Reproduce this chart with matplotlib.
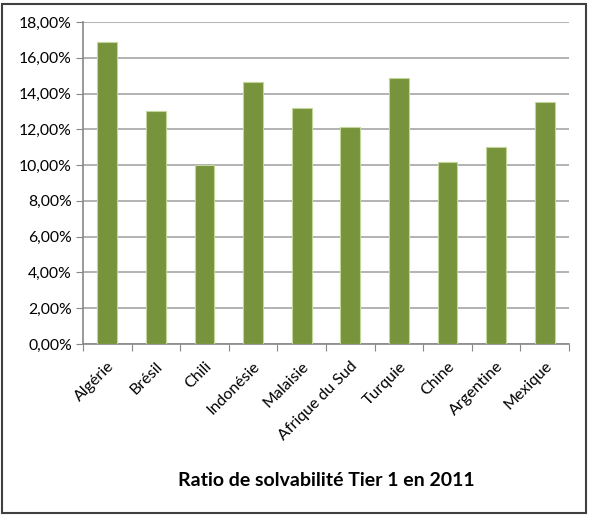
import matplotlib
matplotlib.use("Agg")
import matplotlib.pyplot as plt
from matplotlib.ticker import FuncFormatter, MultipleLocator
from matplotlib.patches import Rectangle

categories = ["Algérie", "Brésil", "Chili", "Indonésie", "Malaisie",
              "Afrique du Sud", "Turquie", "Chine", "Argentine", "Mexique"]
values = [16.9, 13.0, 10.0, 14.65, 13.2, 12.15, 14.87, 10.16, 11.0, 13.55]
title = "Ratio de solvabilité Tier 1 en 2011"

plt.rcParams['font.family'] = ['Lato', 'DejaVu Sans']

fig = plt.figure(figsize=(5.89, 5.15), dpi=100)
ax = fig.add_axes([83/589, 1-344/515, (569-83)/589, (344-22)/515])

x = list(range(len(categories)))
ax.bar(x, values, width=0.41, color="#77933C", edgecolor="#C4D79B", linewidth=0.8, zorder=3)

ax.set_xlim(-0.5, len(categories)-0.5)
ax.set_ylim(0, 18)
ax.yaxis.set_major_locator(MultipleLocator(2))
ax.yaxis.set_major_formatter(FuncFormatter(lambda v, p: f"{v:.2f}".replace(".", ",") + "%"))
ax.grid(axis="y", color="#A6A6A6", linewidth=1.2, zorder=0)

ax.set_xticks([i - 0.5 for i in range(len(categories)+1)], minor=False)
ax.set_xticklabels([])
ax.set_xticks(x, minor=True)
ax.set_xticklabels(categories, minor=True, rotation=45, ha="right", va="top",
                   rotation_mode="anchor", fontsize=11.5)
ax.tick_params(axis="x", which="minor", length=0, pad=11)
ax.tick_params(axis="x", which="major", length=5, color="#888888")
ax.tick_params(axis="y", length=5, color="#888888", labelsize=11.3, pad=3)

for s in ["top", "right"]:
    ax.spines[s].set_visible(False)
for s in ["left", "bottom"]:
    ax.spines[s].set_color("#888888")
    ax.spines[s].set_linewidth(1.2)

fig.text(326/589, 1-480/515, title, ha="center", va="center", fontsize=14, fontweight="bold")

fig.patches.append(Rectangle((2/589, 2/515), 1-5/589, 1-6/515, transform=fig.transFigure,
                             fill=False, edgecolor="#404040", linewidth=1.5))

fig.savefig("out.png", dpi=100)
